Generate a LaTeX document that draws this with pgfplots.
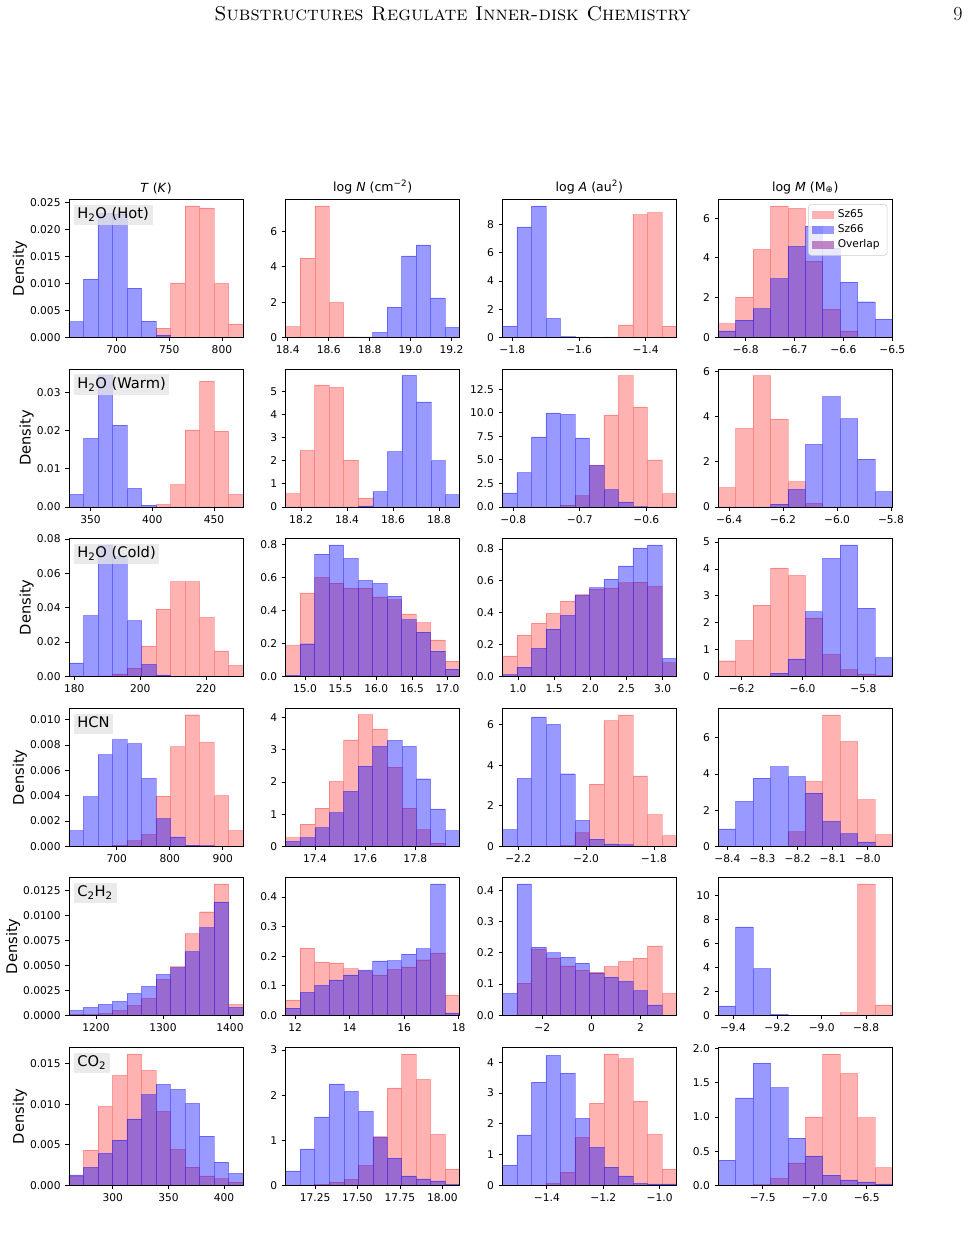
\documentclass[border=0pt]{standalone}
\usepackage{fontspec}
\usepackage{pgfplots}
\pgfplotsset{compat=1.18}
\usepackage{pgfplotstable}
\newfontfamily\dejavu{DejaVu Sans}
\newcommand\tickfont{\dejavu\fontsize{8}{9.6}\selectfont}
\newcommand\titfont{\dejavu\fontsize{9.4}{11}\selectfont}
\newcommand\labfont{\dejavu\fontsize{11}{13.2}\selectfont}
\definecolor{ovl}{RGB}{176,104,184}

\pgfplotsset{panel/.style={
  scale only axis, width=130.5pt, height=103.5pt, anchor=north west,
  ymin=0, enlargelimits=false, axis on top, scaled ticks=false,
  axis line style={line width=0.6pt},
  tick align=outside, xtick pos=left, ytick pos=left,
  major tick length=2.8pt,
  every tick/.style={black, line width=0.6pt},
  tick label style={font=\tickfont},
  ylabel style={font=\labfont, yshift=-4.5pt},
  title style={font=\titfont, yshift=-5.5pt},
}}
\newcommand\panel[5]{%
 \begin{axis}[panel, at={(#1*0.75pt,#2*0.75pt)}, #4]
  \addplot[ybar interval, forget plot, fill=red, fill opacity=0.3, draw=red, draw opacity=0.25, line width=0.35pt] table[x=x,y=r]{#3};
  \addplot[ybar interval, forget plot, fill=blue, fill opacity=0.4, draw=blue, draw opacity=0.35, line width=0.35pt] table[x=x,y=b]{#3};
  #5
 \end{axis}}
\newcommand\lbl[1]{\node[anchor=north west, fill=black!10, fill opacity=0.8, text opacity=1, inner xsep=2.8pt, inner ysep=2.4pt, text height=8.3pt, text depth=2.6pt, font=\labfont, xshift=3.2pt, yshift=-3.75pt] at (rel axis cs:0,1) {#1};}

% ---------------- data: bin left edges, Sz65 (r) and Sz66 (b) densities
\pgfplotstableread{
x r b
655 0 0.0029
668.75 0 0.0108
682.5 0 0.0230
696.25 0 0.0229
710 0 0.0091
723.75 0 0.0030
737.5 0.0017 0.0004
751.25 0.0101 0
765 0.0244 0
778.75 0.0240 0
792.5 0.0100 0
806.25 0.0025 0
820 0 0
}\tblA
\pgfplotstableread{
x r b
18.390 0.60 0
18.461 4.50 0
18.532 7.47 0
18.602 1.99 0
18.673 0.03 0.02
18.744 0 0.02
18.815 0 0.28
18.886 0 1.71
18.956 0 4.63
19.027 0 5.25
19.098 0 2.24
19.169 0 0.56
19.240 0 0
}\tblB
\pgfplotstableread{
x r b
-1.830 0 0.80
-1.7865 0 7.84
-1.743 0 9.32
-1.6995 0 1.34
-1.656 0 0.05
-1.6125 0 0.03
-1.569 0.01 0.02
-1.5255 0.03 0.01
-1.482 0.89 0
-1.4385 8.71 0
-1.395 8.85 0
-1.3515 0.80 0
-1.308 0 0
}\tblC
\pgfplotstableread{
x r b
-6.856 0.69 0.32
-6.8204 2.02 0.87
-6.7848 4.43 1.44
-6.7492 6.62 2.96
-6.7136 6.49 4.58
-6.678 3.83 5.60
-6.6424 1.42 4.50
-6.6068 0.32 2.78
-6.5712 0 1.79
-6.5356 0 0.92
-6.5 0 0
}\tblD
\pgfplotstableread{
x r b
332.5 0 0.0033
344.25 0 0.0180
356 0 0.0345
367.75 0 0.0215
379.5 0 0.0049
391.25 0 0.0005
403 0.0007 0
414.75 0.0059 0
426.5 0.0202 0
438.25 0.0330 0
450 0.0199 0
461.75 0.0033 0
473.5 0 0
}\tblE
\pgfplotstableread{
x r b
18.133 0.58 0
18.196 2.44 0
18.259 5.27 0
18.322 5.17 0
18.385 2.02 0
18.449 0.39 0.05
18.512 0 0.66
18.575 0 2.39
18.638 0 5.68
18.701 0 4.54
18.764 0 2.00
18.827 0 0.53
18.890 0 0
}\tblF
\pgfplotstableread{
x r b
-0.8165 0 1.49
-0.7947 0 3.65
-0.7729 0 7.44
-0.7511 0 9.99
-0.7293 0.20 9.84
-0.7075 1.20 7.33
-0.6857 4.45 4.38
-0.6639 9.77 1.84
-0.6421 13.95 0.53
-0.6203 10.62 0.05
-0.5985 4.99 0
-0.5767 1.42 0
-0.5549 0 0
}\tblG
\pgfplotstableread{
x r b
-6.44 0.86 0
-6.3755 3.48 0
-6.311 5.81 0
-6.2465 3.88 0.13
-6.182 1.12 0.78
-6.1175 0.16 2.77
-6.053 0 4.88
-5.9885 0 3.91
-5.924 0 2.12
-5.8595 0 0.68
-5.795 0 0
}\tblH
\pgfplotstableread{
x r b
178.4 0 0.0078
182.8 0 0.0353
187.2 0.0003 0.0766
191.6 0.0014 0.0700
196.0 0.0047 0.0324
200.4 0.0177 0.0070
204.8 0.0392 0.0008
209.2 0.0551 0
213.6 0.0552 0
218.0 0.0344 0
222.4 0.0148 0
226.8 0.0064 0
231.2 0 0
}\tblI
\pgfplotstableread{
x r b
14.730 0.188 0.005
14.933 0.508 0.198
15.137 0.602 0.743
15.340 0.567 0.800
15.543 0.537 0.718
15.747 0.537 0.584
15.950 0.484 0.565
16.153 0.467 0.488
16.356 0.380 0.345
16.560 0.327 0.269
16.763 0.222 0.153
16.966 0.092 0.043
17.170 0 0
}\tblJ
\pgfplotstableread{
x r b
0.783 0.128 0.011
0.984 0.261 0.057
1.184 0.335 0.175
1.385 0.396 0.297
1.585 0.472 0.383
1.786 0.514 0.509
1.986 0.549 0.558
2.187 0.554 0.611
2.387 0.589 0.695
2.588 0.592 0.808
2.788 0.566 0.827
2.989 0.086 0.112
3.189 0 0
}\tblK
\pgfplotstableread{
x r b
-6.277 0.58 0
-6.2198 1.33 0
-6.1626 2.65 0.01
-6.1054 4.04 0.12
-6.0482 3.76 0.65
-5.991 2.18 2.41
-5.9338 0.82 4.40
-5.8766 0.25 4.90
-5.8194 0.09 2.54
-5.7622 0.03 0.70
-5.705 0 0
}\tblL
\pgfplotstableread{
x r b
610 0 0.00124
637.33 0 0.00392
664.67 0 0.00724
692 0.0001 0.00842
719.33 0.00045 0.00811
746.67 0.00095 0.00537
774 0.00397 0.00218
801.33 0.00787 0.00074
828.67 0.01039 0.0001
856 0.00821 0.00005
883.33 0.0040 0
910.67 0.00124 0
938 0 0
}\tblM
\pgfplotstableread{
x r b
17.283 0.27 0.15
17.341 0.69 0.27
17.399 1.19 0.58
17.456 2.02 1.05
17.514 3.31 1.71
17.572 4.09 2.49
17.630 3.65 3.11
17.688 2.46 3.29
17.746 1.19 3.11
17.803 0.52 2.10
17.861 0.10 1.16
17.919 0 0.49
17.977 0 0
}\tblN
\pgfplotstableread{
x r b
-2.247 0 0.82
-2.2043 0 3.35
-2.1615 0 6.39
-2.1188 0 6.02
-2.076 0.03 3.58
-2.0333 0.67 1.28
-1.9905 3.07 0.35
-1.9478 6.20 0.12
-1.905 6.49 0.08
-1.8623 3.47 0.02
-1.8195 1.56 0
-1.7768 0.53 0
-1.734 0 0
}\tblO
\pgfplotstableread{
x r b
-8.426 0 0.96
-8.3764 0 2.48
-8.3268 0 3.77
-8.2772 0 4.40
-8.2276 0.81 3.85
-8.178 3.59 2.94
-8.1284 7.27 1.38
-8.0788 5.80 0.70
-8.0292 2.58 0.24
-7.9796 0.64 0.02
-7.930 0 0
}\tblP
\pgfplotstableread{
x r b
1159.7 0.0001 0.0005
1181.3 0.0001 0.0008
1203.0 0.0002 0.0011
1224.6 0.0005 0.0014
1246.3 0.0010 0.0022
1267.9 0.0017 0.0029
1289.6 0.0036 0.0041
1311.2 0.0049 0.0048
1332.8 0.0082 0.0064
1354.5 0.0104 0.0088
1376.1 0.0132 0.0114
1397.8 0.0011 0.0008
1419.4 0 0
}\tblQ
\pgfplotstableread{
x r b
11.65 0.052 0.024
12.1825 0.227 0.078
12.715 0.181 0.101
13.2475 0.177 0.120
13.78 0.158 0.137
14.3125 0.148 0.154
14.845 0.137 0.184
15.3775 0.155 0.185
15.91 0.164 0.207
16.4425 0.188 0.226
16.975 0.211 0.445
17.5075 0.069 0.008
18.04 0 0
}\tblR
\pgfplotstableread{
x r b
-3.62 0 0.070
-3.0308 0.103 0.421
-2.4417 0.212 0.218
-1.8525 0.184 0.201
-1.2633 0.158 0.186
-0.6742 0.145 0.167
-0.085 0.138 0.135
0.5042 0.157 0.122
1.0933 0.173 0.109
1.6825 0.183 0.079
2.2717 0.222 0.033
2.8608 0.070 0
3.45 0 0
}\tblS
\pgfplotstableread{
x r b
-9.466 0 0.78
-9.3876 0 7.38
-9.3092 0 3.90
-9.2308 0 0.08
-9.1524 0 0
-9.074 0 0
-8.9956 0 0
-8.9172 0.22 0
-8.8388 10.97 0
-8.7604 0.86 0
-8.682 0 0
}\tblT
\pgfplotstableread{
x r b
260.6 0.0011 0.0013
273.63 0.00434 0.00221
286.67 0.00975 0.00393
299.7 0.01357 0.00557
312.73 0.01623 0.0082
325.77 0.01418 0.01119
338.8 0.00914 0.01246
351.83 0.00443 0.01184
364.87 0.00225 0.01012
377.9 0.00115 0.00607
390.93 0.00082 0.00287
403.97 0.0004 0.00148
417 0 0
}\tblU
\pgfplotstableread{
x r b
17.077 0.01 0.32
17.162 0.01 0.81
17.248 0.02 1.52
17.333 0.07 2.25
17.419 0.13 2.08
17.504 0.44 1.64
17.590 1.08 1.06
17.675 2.16 0.60
17.760 2.91 0.21
17.846 2.35 0.14
17.931 1.13 0.10
18.017 0.36 0.02
18.102 0 0
}\tblV
\pgfplotstableread{
x r b
-1.558 0 0.66
-1.5066 0 1.64
-1.4552 0 3.36
-1.4038 0.06 4.23
-1.3523 0.43 3.65
-1.3009 1.56 2.18
-1.2495 2.67 1.23
-1.1981 4.28 0.59
-1.1467 4.12 0.31
-1.0953 2.74 0.06
-1.0438 1.66 0.05
-0.9924 0.53 0.05
-0.941 0 0
}\tblW
\pgfplotstableread{
x r b
-7.927 0 0.37
-7.7597 0 1.28
-7.5924 0.01 1.79
-7.4251 0.10 1.43
-7.2578 0.33 0.69
-7.0905 1.00 0.43
-6.9232 1.92 0.15
-6.7559 1.64 0.08
-6.5886 0.99 0.05
-6.4213 0.26 0.02
-6.254 0 0
}\tblX

\begin{document}
\begin{tikzpicture}
\fill[white] (0,0) rectangle (728.25pt,925.5pt);
\path[use as bounding box] (0,0) rectangle (728.25pt,925.5pt);
\node[anchor=base, font=\fontsize{15}{18}\selectfont\scshape] at (452.5*0.75pt,1213*0.75pt) {Substructures Regulate Inner-disk Chemistry};
\node[anchor=base, font=\fontsize{15}{18}\selectfont] at (958*0.75pt,1213*0.75pt) {9};

% ---------------- row 1: H2O (Hot)
\panel{69}{1034.7}{\tblA}{xmin=655,xmax=820,ymax=0.0256,
  xtick={700,750,800},xticklabels={700,750,800},
  ytick={0,0.005,0.01,0.015,0.02,0.025},yticklabels={0.000,0.005,0.010,0.015,0.020,0.025},
  ylabel={Density}, title={\textit{T} (\textit{K})}}{\lbl{H\textsubscript{2}O (Hot)}}
\panel{285.7}{1034.7}{\tblB}{xmin=18.39,xmax=19.24,ymax=7.84,
  xtick={18.4,18.6,18.8,19.0,19.2},xticklabels={18.4,18.6,18.8,19.0,19.2},
  ytick={0,2,4,6},yticklabels={0,2,4,6},
  title={log \textit{N} (cm\textsuperscript{−2})}}{}
\panel{502.3}{1034.7}{\tblC}{xmin=-1.83,xmax=-1.308,ymax=9.79,
  xtick={-1.8,-1.6,-1.4},xticklabels={−1.8,−1.6,−1.4},
  ytick={0,2,4,6,8},yticklabels={0,2,4,6,8},
  title={log \textit{A} (au\textsuperscript{2})}}{}
\panel{718.3}{1034.7}{\tblD}{xmin=-6.856,xmax=-6.5,ymax=6.95,
  xtick={-6.8,-6.7,-6.6,-6.5},xticklabels={−6.8,−6.7,−6.6,−6.5},
  ytick={0,2,4,6},yticklabels={0,2,4,6},
  title={log \textit{M} (M\textsubscript{⊕})},
  legend cell align=left,
  legend image code/.code={\fill[#1,draw=none,sharp corners] (0pt,-3pt) rectangle (16.5pt,3pt);},
  legend style={at={(1,1)},anchor=north east,xshift=-3.75pt,yshift=-3.75pt,
    draw=black!20,fill=white,fill opacity=0.8,text opacity=1,rounded corners=2pt,
    font=\tickfont,row sep=1.4pt,inner xsep=2.5pt,inner ysep=2.8pt,
    nodes={inner xsep=3pt,inner ysep=1.2pt}}}{%
  \addlegendimage{fill=red,fill opacity=0.3}\addlegendentry{Sz65}
  \addlegendimage{fill=blue,fill opacity=0.4}\addlegendentry{Sz66}
  \addlegendimage{fill=ovl}\addlegendentry{Overlap}}

% ---------------- row 2: H2O (Warm)
\panel{69}{865}{\tblE}{xmin=332.5,xmax=473.5,ymax=0.0362,
  xtick={350,400,450},xticklabels={350,400,450},
  ytick={0,0.01,0.02,0.03},yticklabels={0.00,0.01,0.02,0.03},
  ylabel={Density}}{\lbl{H\textsubscript{2}O (Warm)}}
\panel{285.7}{865}{\tblF}{xmin=18.133,xmax=18.89,ymax=5.96,
  xtick={18.2,18.4,18.6,18.8},xticklabels={18.2,18.4,18.6,18.8},
  ytick={0,1,2,3,4,5},yticklabels={0,1,2,3,4,5}}{}
\panel{502.3}{865}{\tblG}{xmin=-0.8165,xmax=-0.5549,ymax=14.65,
  xtick={-0.8,-0.7,-0.6},xticklabels={−0.8,−0.7,−0.6},
  ytick={0,2.5,5,7.5,10,12.5},yticklabels={0.0,2.5,5.0,7.5,10.0,12.5}}{}
\panel{718.3}{865}{\tblH}{xmin=-6.44,xmax=-5.795,ymax=6.10,
  xtick={-6.4,-6.2,-6.0,-5.8},xticklabels={−6.4,−6.2,−6.0,−5.8},
  ytick={0,2,4,6},yticklabels={0,2,4,6}}{}

% ---------------- row 3: H2O (Cold)
\panel{69}{695.7}{\tblI}{xmin=178.4,xmax=231.2,ymax=0.0804,
  xtick={180,200,220},xticklabels={180,200,220},
  ytick={0,0.02,0.04,0.06,0.08},yticklabels={0.00,0.02,0.04,0.06,0.08},
  ylabel={Density}}{\lbl{H\textsubscript{2}O (Cold)}}
\panel{285.7}{695.7}{\tblJ}{xmin=14.73,xmax=17.17,ymax=0.84,
  xtick={15,15.5,16,16.5,17},xticklabels={15.0,15.5,16.0,16.5,17.0},
  ytick={0,0.2,0.4,0.6,0.8},yticklabels={0.0,0.2,0.4,0.6,0.8}}{}
\panel{502.3}{695.7}{\tblK}{xmin=0.783,xmax=3.189,ymax=0.868,
  xtick={1,1.5,2,2.5,3},xticklabels={1.0,1.5,2.0,2.5,3.0},
  ytick={0,0.2,0.4,0.6,0.8},yticklabels={0.0,0.2,0.4,0.6,0.8}}{}
\panel{718.3}{695.7}{\tblL}{xmin=-6.277,xmax=-5.705,ymax=5.145,
  xtick={-6.2,-6.0,-5.8},xticklabels={−6.2,−6.0,−5.8},
  ytick={0,1,2,3,4,5},yticklabels={0,1,2,3,4,5}}{}

% ---------------- row 4: HCN
\panel{69}{525.7}{\tblM}{xmin=610,xmax=938,ymax=0.0109,
  xtick={700,800,900},xticklabels={700,800,900},
  ytick={0,0.002,0.004,0.006,0.008,0.01},yticklabels={0.000,0.002,0.004,0.006,0.008,0.010},
  ylabel={Density}}{\lbl{HCN}}
\panel{285.7}{525.7}{\tblN}{xmin=17.283,xmax=17.977,ymax=4.29,
  xtick={17.4,17.6,17.8},xticklabels={17.4,17.6,17.8},
  ytick={0,1,2,3,4},yticklabels={0,1,2,3,4}}{}
\panel{502.3}{525.7}{\tblO}{xmin=-2.247,xmax=-1.734,ymax=6.81,
  xtick={-2.2,-2.0,-1.8},xticklabels={−2.2,−2.0,−1.8},
  ytick={0,2,4,6},yticklabels={0,2,4,6}}{}
\panel{718.3}{525.7}{\tblP}{xmin=-8.426,xmax=-7.93,ymax=7.63,
  xtick={-8.4,-8.3,-8.2,-8.1,-8.0},xticklabels={−8.4,−8.3,−8.2,−8.1,−8.0},
  ytick={0,2,4,6},yticklabels={0,2,4,6}}{}

% ---------------- row 5: C2H2
\panel{69}{356.7}{\tblQ}{xmin=1159.7,xmax=1419.4,ymax=0.01386,
  xtick={1200,1300,1400},xticklabels={1200,1300,1400},
  ytick={0,0.0025,0.005,0.0075,0.01,0.0125},yticklabels={0.0000,0.0025,0.0050,0.0075,0.0100,0.0125},
  ylabel={Density}}{\lbl{C\textsubscript{2}H\textsubscript{2}}}
\panel{285.7}{356.7}{\tblR}{xmin=11.65,xmax=18.04,ymax=0.467,
  xtick={12,14,16,18},xticklabels={12,14,16,18},
  ytick={0,0.1,0.2,0.3,0.4},yticklabels={0.0,0.1,0.2,0.3,0.4}}{}
\panel{502.3}{356.7}{\tblS}{xmin=-3.62,xmax=3.45,ymax=0.442,
  xtick={-2,0,2},xticklabels={−2,0,2},
  ytick={0,0.1,0.2,0.3,0.4},yticklabels={0.0,0.1,0.2,0.3,0.4}}{}
\panel{718.3}{356.7}{\tblT}{xmin=-9.466,xmax=-8.682,ymax=11.52,
  xtick={-9.4,-9.2,-9.0,-8.8},xticklabels={−9.4,−9.2,−9.0,−8.8},
  ytick={0,2,4,6,8,10},yticklabels={0,2,4,6,8,10}}{}

% ---------------- row 6: CO2
\panel{69}{186.7}{\tblU}{xmin=260.6,xmax=417,ymax=0.01704,
  xtick={300,350,400},xticklabels={300,350,400},
  ytick={0,0.005,0.01,0.015},yticklabels={0.000,0.005,0.010,0.015},
  ylabel={Density}}{\lbl{CO\textsubscript{2}}}
\panel{285.7}{186.7}{\tblV}{xmin=17.077,xmax=18.102,ymax=3.06,
  xtick={17.25,17.5,17.75,18},xticklabels={17.25,17.50,17.75,18.00},
  ytick={0,1,2,3},yticklabels={0,1,2,3}}{}
\panel{502.3}{186.7}{\tblW}{xmin=-1.558,xmax=-0.941,ymax=4.49,
  xtick={-1.4,-1.2,-1.0},xticklabels={−1.4,−1.2,−1.0},
  ytick={0,1,2,3,4},yticklabels={0,1,2,3,4}}{}
\panel{718.3}{186.7}{\tblX}{xmin=-7.927,xmax=-6.254,ymax=2.02,
  xtick={-7.5,-7.0,-6.5},xticklabels={−7.5,−7.0,−6.5},
  ytick={0,0.5,1,1.5,2},yticklabels={0.0,0.5,1.0,1.5,2.0}}{}
\end{tikzpicture}
\end{document}
